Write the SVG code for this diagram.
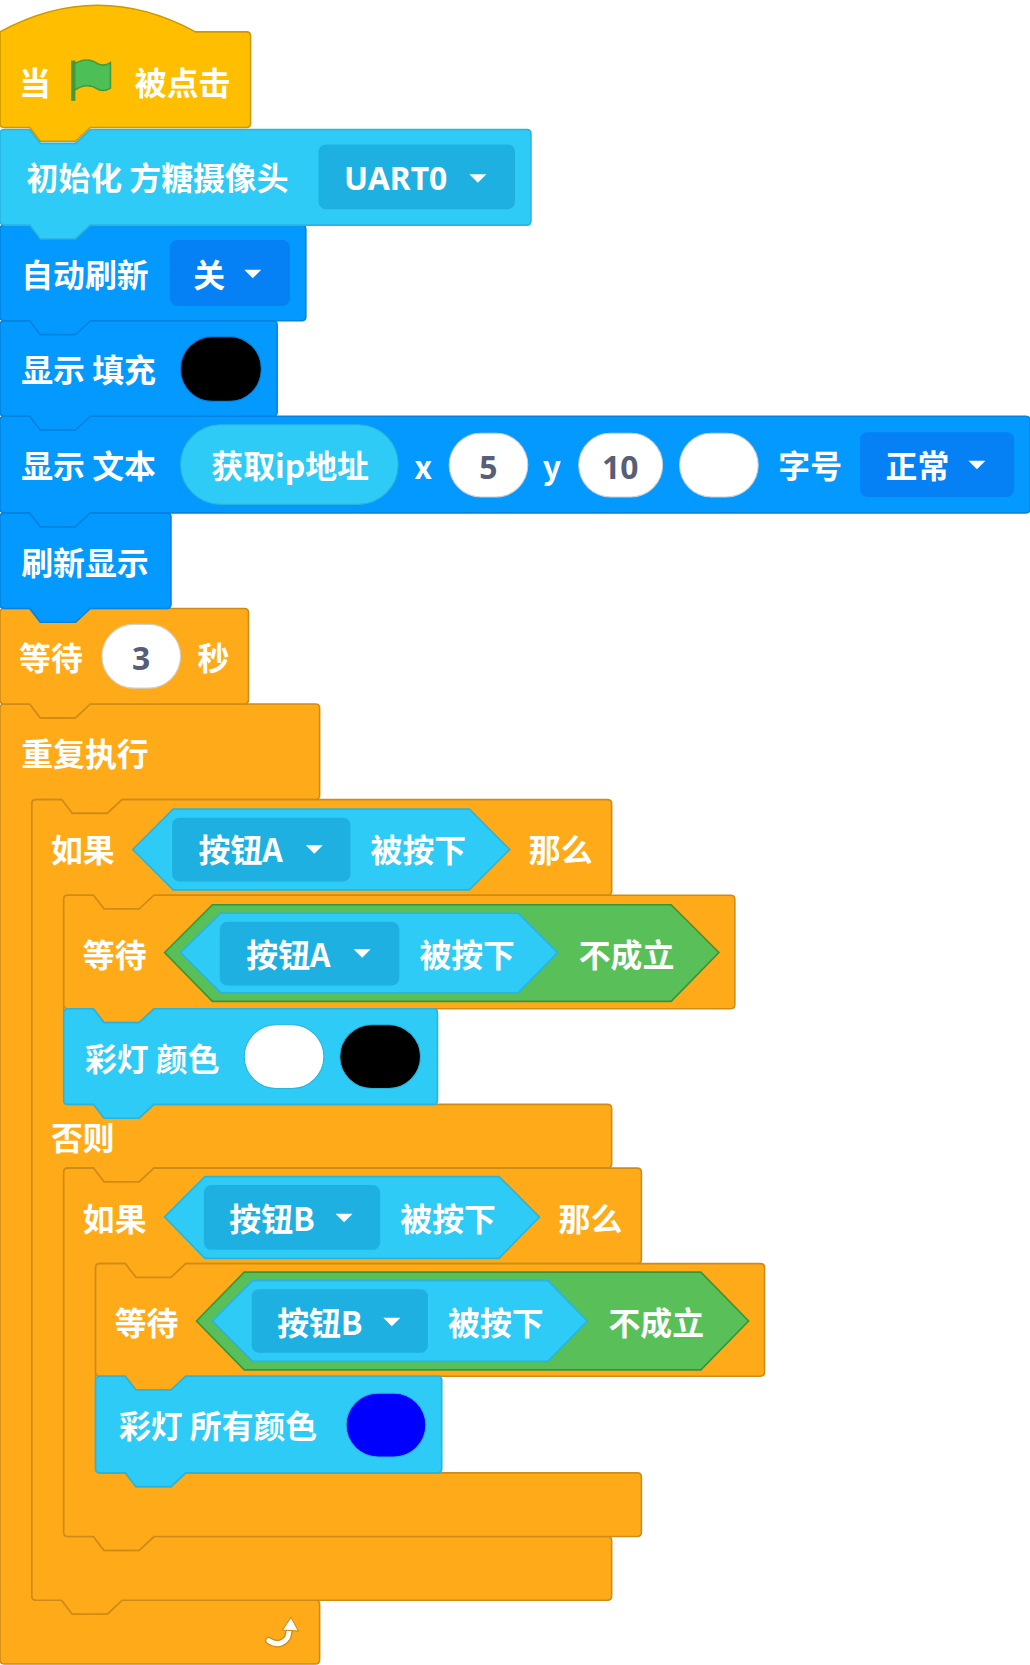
<svg xmlns="http://www.w3.org/2000/svg" width="1030" height="1665" viewBox="0 0 1030 1665">
<style>
text{font-family:"Noto Sans CJK SC","Noto Sans",sans-serif;font-weight:bold;font-size:30px;fill:#fff;dominant-baseline:central}
.v{fill:#575E75;text-anchor:middle;font-family:"Noto Sans",sans-serif}
.hat{fill:#FFBF00;stroke:#CC9900;stroke-width:1.5}
.cy{fill:#2ECBF7;stroke:#28B4DC;stroke-width:1.5}
.bl{fill:#0399FF;stroke:#0283E0;stroke-width:1.5}
.or{fill:#FFAB19;stroke:#CF8B17;stroke-width:1.5}
.gr{fill:#59C059;stroke:#389438;stroke-width:1.5}
.dd1{fill:#1FB0E2}
.dd2{fill:#0580F5}
.wo{fill:#fff;stroke:#D0D0D0;stroke-width:1}
</style>
<defs>
<path id="arr" d="M0,0 H16 L8,8 Z" fill="#fff"/>
</defs>
<g transform="scale(1.0619)">
<g id="forever"><path class="or" d="M0,667 Q0,663 4,663 H28 L38,676 H71 L85,663 H297 Q301,663 301,667 V749 Q301,753 297,753 H115 L101,766 H68 L58,753 H34 Q30,753 30,757 V1503 Q30,1507 34,1507 H58 L68,1520 H101 L115,1507 H297 Q301,1507 301,1511 V1563 Q301,1567 297,1567 H4 Q0,1567 0,1563 Z"/>
<text x="20" y="708">重复执行</text>
<path d="M253,1545 Q264,1552 271,1542 L273,1532" fill="none" stroke="#CF8B17" stroke-width="7" stroke-linecap="round"/>
<path d="M253,1545 Q264,1552 271,1542 L273,1532" fill="none" stroke="#fff" stroke-width="4.5" stroke-linecap="round"/>
<path d="M266,1535 L274,1523 L281,1536 Z" fill="#fff" stroke="#CF8B17" stroke-width="1"/>
</g>
<g id="ifelse"><path class="or" d="M30,757 Q30,753 34,753 H58 L68,766 H101 L115,753 H572 Q576,753 576,757 V839 Q576,843 572,843 H145 L131,856 H98 L88,843 H64 Q60,843 60,847 V1036 Q60,1040 64,1040 H88 L98,1053 H131 L145,1040 H572 Q576,1040 576,1044 V1096 Q576,1100 572,1100 H145 L131,1113 H98 L88,1100 H64 Q60,1100 60,1104 V1443 Q60,1447 64,1447 H88 L98,1460 H131 L145,1447 H572 Q576,1447 576,1451 V1503 Q576,1507 572,1507 H115 L101,1520 H68 L58,1507 H34 Q30,1507 30,1503 Z"/>
<text x="48" y="799">如果</text>
<polygon class="cy" points="125,800 163,762 442,762 480,800 442,838 163,838"/>
<rect class="dd1" x="162" y="770" width="168" height="60" rx="7"/>
<text x="187" y="799">按钮A</text><use href="#arr" x="288" y="796"/>
<text x="349" y="799">被按下</text>
<text x="498" y="799">那么</text>
<text x="48" y="1070">否则</text>
</g>
<g id="waitA"><path class="or" d="M60,847 Q60,843 64,843 H88 L98,856 H131 L145,843 H688 Q692,843 692,847 V946 Q692,950 688,950 H145 L131,963 H98 L88,950 H64 Q60,950 60,946 Z"/>
<text x="78" y="897">等待</text>
<polygon class="gr" points="155,897 200,852 632,852 677,897 632,943 200,943"/>
<polygon class="cy" points="170,897 208,860 488,860 525,897 488,935 208,935"/>
<rect class="dd1" x="207" y="868" width="169" height="60" rx="7"/>
<text x="232" y="897">按钮A</text><use href="#arr" x="333" y="894"/>
<text x="395" y="897">被按下</text>
<text x="545" y="897">不成立</text>
</g>
<g id="light1"><path class="cy" d="M60,954 Q60,950 64,950 H88 L98,963 H131 L145,950 H408 Q412,950 412,954 V1036 Q412,1040 408,1040 H145 L131,1053 H98 L88,1040 H64 Q60,1040 60,1036 Z"/>
<text x="80" y="995">彩灯 颜色</text>
<rect x="230" y="965" width="75" height="60" rx="30" fill="#fff" stroke="#28B4DC"/>
<rect x="320" y="965" width="76" height="60" rx="30" fill="#000" stroke="#28B4DC"/>
</g>
<g id="ifB"><path class="or" d="M60,1104 Q60,1100 64,1100 H88 L98,1113 H131 L145,1100 H600 Q604,1100 604,1104 V1186 Q604,1190 600,1190 H175 L161,1203 H128 L118,1190 H94 Q90,1190 90,1194 V1383 Q90,1387 94,1387 H118 L128,1400 H161 L175,1387 H600 Q604,1387 604,1391 V1443 Q604,1447 600,1447 H145 L131,1460 H98 L88,1447 H64 Q60,1447 60,1443 Z"/>
<text x="78" y="1146">如果</text>
<polygon class="cy" points="155,1146 193,1108 470,1108 508,1146 470,1185 193,1185"/>
<rect class="dd1" x="192" y="1116" width="166" height="61" rx="7"/>
<text x="216" y="1146">按钮B</text><use href="#arr" x="316" y="1143"/>
<text x="377" y="1146">被按下</text>
<text x="526" y="1146">那么</text>
</g>
<g id="waitB"><path class="or" d="M90,1194 Q90,1190 94,1190 H118 L128,1203 H161 L175,1190 H716 Q720,1190 720,1194 V1292 Q720,1296 716,1296 H175 L161,1309 H128 L118,1296 H94 Q90,1296 90,1292 Z"/>
<text x="108" y="1244">等待</text>
<polygon class="gr" points="185,1244 230,1198 660,1198 705,1244 660,1290 230,1290"/>
<polygon class="cy" points="200,1244 238,1206 516,1206 553,1244 516,1282 238,1282"/>
<rect class="dd1" x="237" y="1214" width="166" height="60" rx="7"/>
<text x="261" y="1244">按钮B</text><use href="#arr" x="361" y="1241"/>
<text x="422" y="1244">被按下</text>
<text x="573" y="1244">不成立</text>
</g>
<g id="light2"><path class="cy" d="M90,1300 Q90,1296 94,1296 H118 L128,1309 H161 L175,1296 H412 Q416,1296 416,1300 V1383 Q416,1387 412,1387 H175 L161,1400 H128 L118,1387 H94 Q90,1387 90,1383 Z"/>
<text x="112" y="1341">彩灯 所有颜色</text>
<rect x="326" y="1312" width="75" height="60" rx="30" fill="#0000FF" stroke="#28B4DC"/>
</g>
<g id="wait3"><path class="or" d="M0,577 Q0,573 4,573 H28 L38,586 H71 L85,573 H230 Q234,573 234,577 V659 Q234,663 230,663 H85 L71,676 H38 L28,663 H4 Q0,663 0,659 Z"/>
<text x="18" y="618">等待</text>
<rect class="wo" x="96" y="588" width="74" height="60" rx="30"/>
<text class="v" x="133" y="619">3</text>
<text x="186" y="618">秒</text>
</g>
<g id="refresh"><path class="bl" d="M0,487 Q0,483 4,483 H28 L38,496 H71 L85,483 H157 Q161,483 161,487 V569 Q161,573 157,573 H85 L71,586 H38 L28,573 H4 Q0,573 0,569 Z"/>
<text x="20" y="528">刷新显示</text>
</g>
<g id="text"><path class="bl" d="M0,396 Q0,392 4,392 H28 L38,405 H71 L85,392 H966 Q970,392 970,396 V479 Q970,483 966,483 H85 L71,496 H38 L28,483 H4 Q0,483 0,479 Z"/>
<text x="20" y="437">显示 文本</text>
<rect x="170" y="400" width="205" height="75" rx="37.5" fill="#2ECBF7" stroke="#28B4DC"/>
<text x="199" y="437">获取ip地址</text>
<text x="390" y="438">x</text>
<rect class="wo" x="423" y="408" width="74" height="60" rx="30"/>
<text class="v" x="460" y="439">5</text>
<text x="511" y="438">y</text>
<rect class="wo" x="545" y="408" width="79" height="60" rx="30"/>
<text class="v" x="584" y="439">10</text>
<rect class="wo" x="640" y="408" width="74" height="60" rx="30"/>
<text x="733" y="437">字号</text>
<rect class="dd2" x="810" y="407" width="145" height="61" rx="7"/>
<text x="834" y="437">正常</text><use href="#arr" x="912" y="434"/>
</g>
<g id="fill"><path class="bl" d="M0,306 Q0,302 4,302 H28 L38,315 H71 L85,302 H257 Q261,302 261,306 V388 Q261,392 257,392 H85 L71,405 H38 L28,392 H4 Q0,392 0,388 Z"/>
<text x="20" y="347">显示 填充</text>
<rect x="170" y="317" width="76" height="61" rx="30" fill="#000" stroke="#0283E0"/>
</g>
<g id="auto"><path class="bl" d="M0,216 Q0,212 4,212 H28 L38,225 H71 L85,212 H284 Q288,212 288,216 V298 Q288,302 284,302 H85 L71,315 H38 L28,302 H4 Q0,302 0,298 Z"/>
<text x="20" y="257">自动刷新</text>
<rect class="dd2" x="160" y="226" width="113" height="62" rx="7"/>
<text x="182" y="257">关</text><use href="#arr" x="230" y="254"/>
</g>
<g id="init"><path class="cy" d="M0,126 Q0,122 4,122 H28 L38,135 H71 L85,122 H496 Q500,122 500,126 V208 Q500,212 496,212 H85 L71,225 H38 L28,212 H4 Q0,212 0,208 Z"/>
<text x="25" y="166">初始化 方糖摄像头</text>
<rect class="dd1" x="300" y="136" width="185" height="61" rx="7"/>
<text x="324" y="167" style="font-family:'Noto Sans',sans-serif">UART0</text><use href="#arr" x="442" y="164"/>
</g>
<g id="hat"><path class="hat" d="M0,30 Q92,-20 184,30 H232 Q236,30 236,34 V116 Q236,120 232,120 H85 L71,133 H38 L28,120 H4 Q0,120 0,116 Z"/>
<text x="18" y="76">当</text>
<path d="M70,60 Q82,53 92,60 Q98,63 104,59 V83 Q98,87 92,84 Q82,77 70,85 Z" fill="#4CBF56" stroke="#45993D" stroke-width="1.5"/>
<rect x="67" y="57" width="4" height="38" fill="#45993D"/>
<text x="127" y="76">被点击</text>
</g>
</g>
</svg>
